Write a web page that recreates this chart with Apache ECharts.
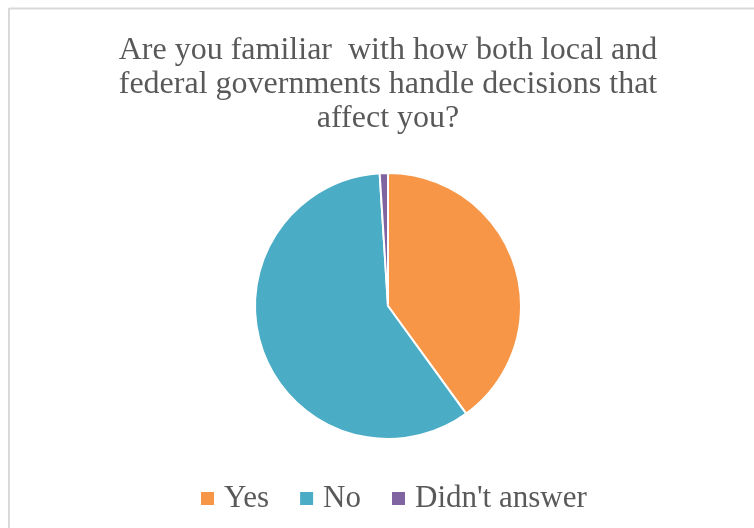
<!DOCTYPE html>
<html>
<head>
<meta charset="utf-8">
<script src="https://cdn.jsdelivr.net/npm/echarts@6/dist/echarts.min.js"></script>
<style>html,body{margin:0;padding:0;background:#fff;}#c{width:754px;height:528px;}</style>
</head>
<body>
<div id="c"></div>
<script>
const categories = ["Yes", "No", "Didn't answer"];
const values = [40, 59, 1];
const colors = ["#F79646", "#4BACC6", "#8064A2"];
const titleLines = ["Are you familiar  with how both local and", "federal governments handle decisions that", "affect you?"];

const chart = echarts.init(document.getElementById('c'), null, {renderer: 'canvas'});
const font = "'Liberation Serif', 'Times New Roman', serif";
const titleEls = titleLines.map((t, i) => ({
  type: 'text', x: 388, y: 51 + i * 34,
  style: {text: t, font: "32px " + font, fill: '#595959', textAlign: 'center', textVerticalAlign: 'middle'}
}));
chart.setOption({
  animation: false,
  color: colors,
  graphic: [
    {type: 'line', shape: {x1: 9, y1: 8.5, x2: 754, y2: 8.5}, style: {stroke: '#d9d9d9', lineWidth: 2}},
    {type: 'line', shape: {x1: 9, y1: 8, x2: 9, y2: 528}, style: {stroke: '#d9d9d9', lineWidth: 2}},
    ...titleEls
  ],
  legend: {
    data: categories,
    left: 194, top: 478,
    icon: 'rect', itemWidth: 15, itemHeight: 15, itemGap: 29,
    textStyle: {fontFamily: font, fontSize: 31, color: '#595959', padding: [0, 0, 0, 4]}
  },
  series: [{
    type: 'pie',
    center: [388, 306], radius: [0, 133],
    startAngle: 90, clockwise: true,
    label: {show: false}, labelLine: {show: false},
    itemStyle: {borderColor: '#fff', borderWidth: 2},
    data: categories.map((c, i) => ({name: c, value: values[i]}))
  }]
});
</script>
</body>
</html>
